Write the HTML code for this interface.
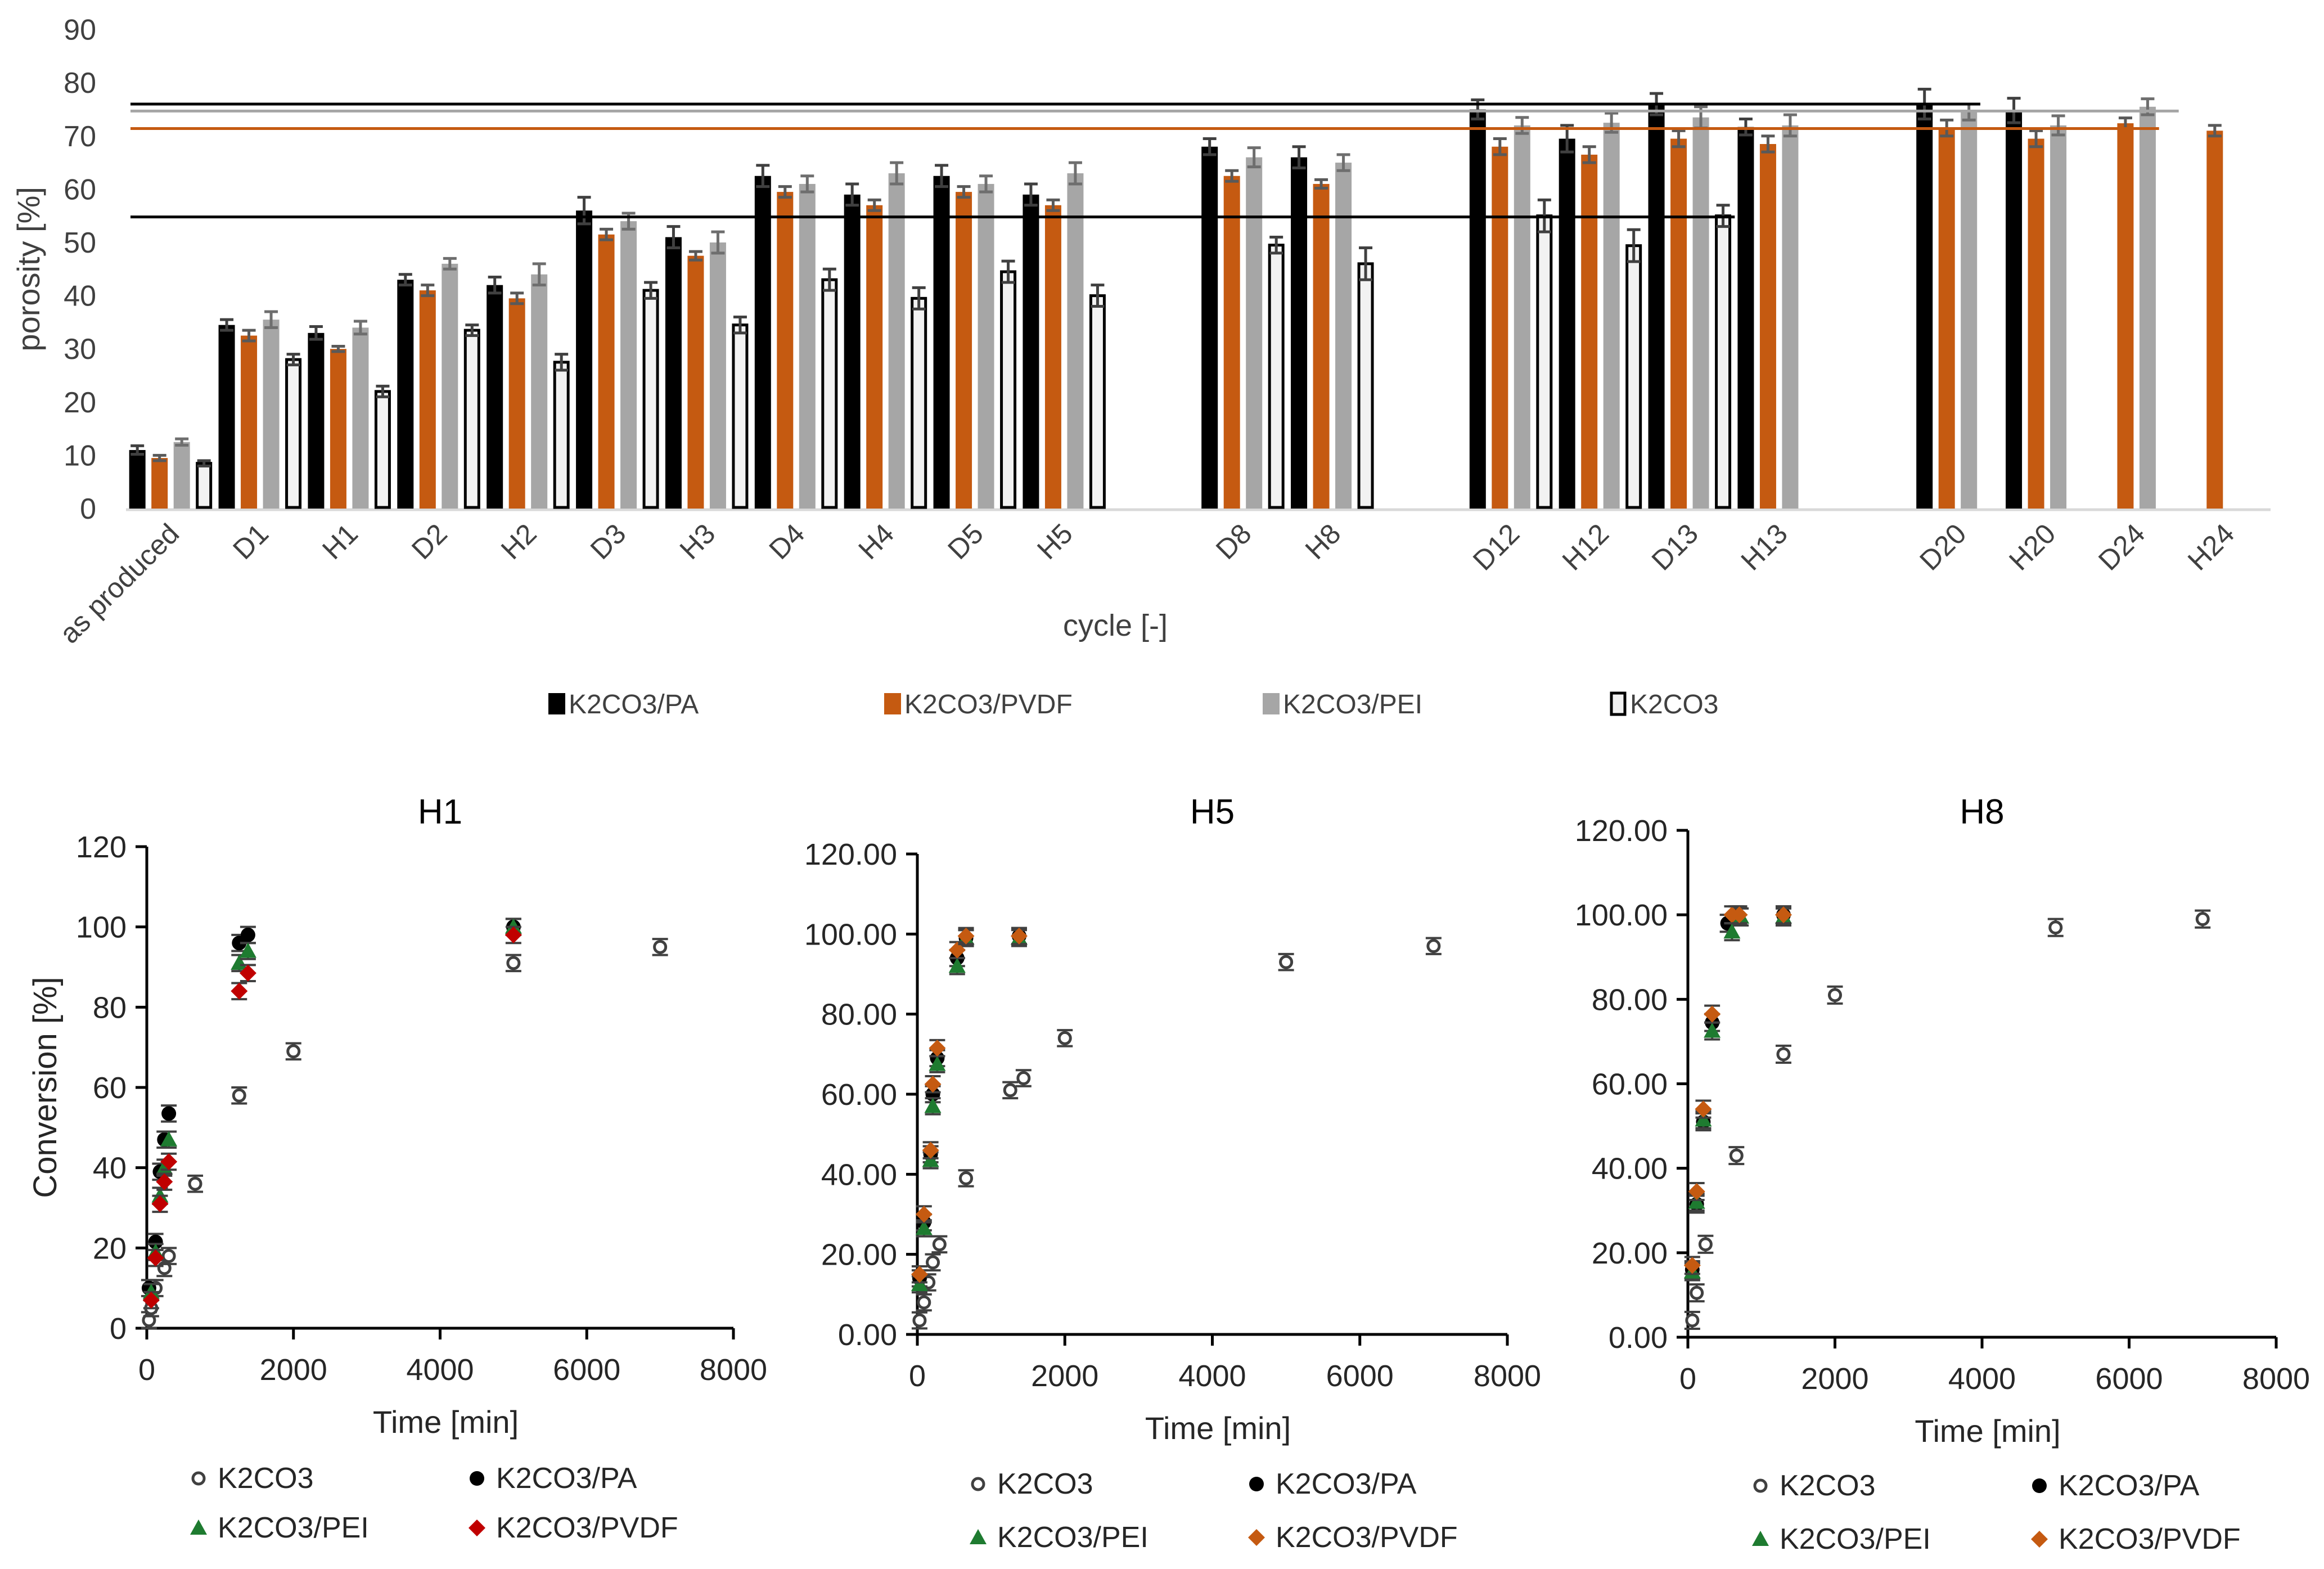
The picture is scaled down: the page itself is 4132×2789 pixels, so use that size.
<!DOCTYPE html>
<html><head><meta charset="utf-8"><style>
html,body{margin:0;padding:0;background:#fff;}
svg{display:block;font-family:"Liberation Sans",sans-serif;}
</style></head><body>
<svg id="svg" width="4132" height="2789" viewBox="0 0 4132 2789" xmlns="http://www.w3.org/2000/svg">
<g id="topChart"></g>
<g id="bottomCharts"></g>
</svg>
<script>
// ---------- Top chart data ----------
const categories = ["as produced","D1","H1","D2","H2","D3","H3","D4","H4","D5","H5","","D8","H8","","D12","H12","D13","H13","","D20","H20","D24","H24"];
const seriesNames = ["K2CO3/PA","K2CO3/PVDF","K2CO3/PEI","K2CO3"];
const paVals   = [11,34.5,33,43,42,56,51,62.5,59,62.5,59,null,68,66,null,75,69.5,76,71.7,null,76,74.8,null,null];
const pvdfVals = [9.5,32.5,30,41,39.5,51.5,47.5,59.5,57,59.5,57,null,62.5,61,null,68,66.5,69.5,68.5,null,71.5,69.5,72.4,71];
const peiVals  = [12.5,35.5,34,46,44,54,50,61,63,61,63,null,66,65,null,72,72.5,73.5,72,null,74.5,72,75.5,null];
const k2Vals   = [8.5,28,22,33.5,27.5,41,34.5,43,39.5,44.5,40,null,49.5,46,null,55,49.4,55,null,null,null,null,null,null];
const paErr   = [0.8,1,1.2,1,1.5,2.5,2,2,2,2,2,null,1.5,2,null,1.8,2.5,2,1.5,null,2.8,2.3,null,null];
const pvdfErr = [0.5,1,0.5,1,1,1,0.8,1,1,1,1,null,1,0.8,null,1.5,1.5,1.5,1.5,null,1.5,1.5,1,1];
const peiErr  = [0.6,1.5,1.2,1,2,1.5,2,1.5,2,1.5,2,null,1.8,1.5,null,1.5,1.8,2,2,null,1.5,1.8,1.5,null];
const k2Err   = [0.5,1,1,1,1.5,1.5,1.5,2,2,2,2,null,1.5,3,null,3,3,2,null,null,null,null,null,null];
const yTicksTop = [0,10,20,30,40,50,60,70,80,90];
const refLineVals = [76,74.7,71.4,54.8];

const NS="http://www.w3.org/2000/svg";
function mk(parent,tag,attrs,name,text){const e=document.createElementNS(NS,tag);for(const k in attrs)e.setAttribute(k,attrs[k]);


if(text!==undefined)e.textContent=text;parent.appendChild(e);return e;}

const topG=document.getElementById('topChart');
const L=224,R=4037,Y0=904,PU=9.46;
const band=(R-L)/categories.length;
const ty=v=>Y0-v*PU;
const cx=i=>L+band*(i+0.5);
const barW=29,barSp=39.5;
yTicksTop.forEach(t=>mk(topG,'text',{x:171,y:ty(t)+18,'text-anchor':'end','font-size':52,fill:'#404040'},'y-tick-label',String(t)));
mk(topG,'text',{transform:'translate(70,'+ty(45)+') rotate(-90)','text-anchor':'middle','font-size':56,fill:'#404040'},'y-axis-title','porosity [%]');
mk(topG,'line',{x1:L,x2:R,y1:Y0+2,y2:Y0+2,stroke:'#d9d9d9','stroke-width':5},'x-axis-line');
const fills=['#000000','#c55a11','#a6a6a6','#f2f2f2'];
const vals=[paVals,pvdfVals,peiVals,k2Vals],errs=[paErr,pvdfErr,peiErr,k2Err];
const errCol=['#404040','#595959','#6e6e6e','#404040'];
categories.forEach((c,i)=>{
  for(let s=0;s<4;s++){const v=vals[s][i];if(v===null)continue;
    const x=cx(i)+(s-1.5)*barSp-barW/2;
    const a={x:x,y:ty(v),width:barW,height:Y0-ty(v),fill:fills[s]};
    if(s===3){a.stroke='#000';a['stroke-width']=5;a.x=x+2.5;a.width=barW-5;a.y=ty(v);a.height=Y0-ty(v)-2;}
    mk(topG,'rect',a,'bar-'+seriesNames[s].toLowerCase().replace(/[^a-z0-9]/g,'-')+'-'+(c||'gap').replace(/ /g,'-'));
    const e=errs[s][i];if(e){const xm=cx(i)+(s-1.5)*barSp;
      mk(topG,'path',{d:`M${xm} ${ty(v+e)}V${ty(v-e)}M${xm-12} ${ty(v+e)}H${xm+12}M${xm-12} ${ty(v-e)}H${xm+12}`,stroke:errCol[s],'stroke-width':5,fill:'none'},'error-bar');}
  }
  if(c)mk(topG,'text',{transform:`translate(${cx(i)+18},${952}) rotate(-45)`,'text-anchor':'end','font-size':50,fill:'#404040'},'x-tick-label',c);
});
const refCols=['#000000','#a6a6a6','#c55a11','#000000'];
const refEnds=[cx(20)+40,cx(22)+75,cx(22)+40,cx(17)+80];
refLineVals.forEach((v,k)=>{
  mk(topG,'line',{x1:L+8,x2:refEnds[k],y1:ty(v),y2:ty(v),stroke:refCols[k],'stroke-width':5},'reference-line');});
mk(topG,'text',{x:1983,y:1130,'text-anchor':'middle','font-size':54,fill:'#404040'},'x-axis-title','cycle [-]');
const legX=[975,1572,2245,2862];
seriesNames.forEach((n,s)=>{
  const a={x:legX[s],y:1232,width:30,height:38,fill:fills[s]};
  if(s===3){a.stroke='#000';a['stroke-width']=5;a.x+=3;a.width=24;}
  mk(topG,'rect',a,'legend-swatch');
  mk(topG,'text',{x:legX[s]+36,y:1268,'font-size':48,fill:'#404040'},'legend-label',n);
});

// ---------- Bottom charts data ----------
const xTicksBottom=[0,2000,4000,6000,8000];
const yTicksBottom=[0,20,40,60,80,100,120];
const h1K2T=[30,60,120,240,300,660,1260,2000,5000,7000];
const h1K2V=[2,5,10,15,18,36,58,69,91,95];
const h1PaT=[30,120,180,240,300,1260,1380,5000];
const h1PaV=[10,21.5,39,47,53.5,96,98,100];
const h1PeiT=[60,120,180,240,300,1260,1380,5000];
const h1PeiV=[9,19,33,40,47,91,94,100];
const h1PvdfT=[60,120,180,240,300,1260,1380,5000];
const h1PvdfV=[7,17.5,31,36.5,41.5,84,88.5,98];
const h5K2T=[30,90,150,210,300,660,1260,1440,2000,5000,7000];
const h5K2V=[3.5,8,13,18,22.5,39,61,64,74,93,97];
const h5PaT=[30,90,180,210,270,540,660,1380];
const h5PaV=[14,28,45,60,69,94,99,99.5];
const h5PeiT=[30,90,180,210,270,540,660,1380];
const h5PeiV=[12.5,26.5,43.5,57,67.5,92,99,99];
const h5PvdfT=[30,90,180,210,270,540,660,1380];
const h5PvdfV=[15,30,46,62.5,71.5,96,99.5,99.5];
const h8K2T=[60,120,240,660,1300,2000,5000,7000];
const h8K2V=[4,10.5,22,43,67,81,97,99];
const h8PaT=[60,120,210,330,540,660,1300];
const h8PaV=[16,31.5,51,74.5,98,100,100];
const h8PeiT=[60,120,210,330,600,720,1300];
const h8PeiV=[15.5,32,51.5,72.5,96,99.5,99.5];
const h8PvdfT=[60,120,210,330,600,700,1300];
const h8PvdfV=[17,34.5,54,76.5,100,100,100];

const botG=document.getElementById('bottomCharts');
const panels=[
 {title:'H1',x0:261,x1:1304,y0:2361,y1:1505,dec:0,pv:'#c00000',
  series:[[h1K2T,h1K2V],[h1PaT,h1PaV],[h1PeiT,h1PeiV],[h1PvdfT,h1PvdfV]],
  lx:[353,848],ly:[2645,2733],ylab:true},
 {title:'H5',x0:1631,x1:2680,y0:2372,y1:1518,dec:2,pv:'#c55a11',
  series:[[h5K2T,h5K2V],[h5PaT,h5PaV],[h5PeiT,h5PeiV],[h5PvdfT,h5PvdfV]],
  lx:[1739,2234],ly:[2655,2750]},
 {title:'H8',x0:3001,x1:4047,y0:2377,y1:1476,dec:2,pv:'#c55a11',
  series:[[h8K2T,h8K2V],[h8PaT,h8PaV],[h8PeiT,h8PeiV],[h8PvdfT,h8PvdfV]],
  lx:[3130,3626],ly:[2658,2753]}
];
const legNames=['K2CO3','K2CO3/PA','K2CO3/PEI','K2CO3/PVDF'];
function marker(g,s,x,y,pv,name){
  if(s===0)return mk(g,'circle',{cx:x,cy:y,r:10,fill:'#fff',stroke:'#404040','stroke-width':5},name);
  if(s===1)return mk(g,'circle',{cx:x,cy:y,r:13,fill:'#000'},name);
  if(s===2)return mk(g,'path',{d:`M${x} ${y-15}L${x+15} ${y+12}H${x-15}Z`,fill:'#1e7b30'},name);
  return mk(g,'path',{d:`M${x} ${y-15}L${x+15} ${y}L${x} ${y+15}L${x-15} ${y}Z`,fill:pv},name);
}
panels.forEach(p=>{
  const g=mk(botG,'g',{},'panel-'+p.title.toLowerCase());
  const X=t=>p.x0+(p.x1-p.x0)*t/8000, Y=v=>p.y0+(p.y1-p.y0)*v/120;
  mk(g,'text',{x:(p.x0+p.x1)/2,y:1464,'text-anchor':'middle','font-size':62,fill:'#000'},'chart-title',p.title);
  mk(g,'line',{x1:p.x0,x2:p.x0,y1:Y(120),y2:p.y0+2,stroke:'#000','stroke-width':5},'y-axis-line');
  mk(g,'line',{x1:p.x0-2,x2:p.x1,y1:p.y0,y2:p.y0,stroke:'#000','stroke-width':5},'x-axis-line');
  yTicksBottom.forEach(t=>{mk(g,'line',{x1:p.x0-20,x2:p.x0,y1:Y(t),y2:Y(t),stroke:'#000','stroke-width':5},'y-tick');
    mk(g,'text',{x:p.x0-36,y:Y(t)+19,'text-anchor':'end','font-size':54,fill:'#262626'},'y-tick-label',t.toFixed(p.dec));});
  xTicksBottom.forEach(t=>{mk(g,'line',{x1:X(t),x2:X(t),y1:p.y0,y2:p.y0+20,stroke:'#000','stroke-width':5},'x-tick');
    mk(g,'text',{x:X(t),y:p.y0+92,'text-anchor':'middle','font-size':54,fill:'#262626'},'x-tick-label',String(t));});
  mk(g,'text',{x:(p.x0+p.x1)/2+10,y:p.y0+186,'text-anchor':'middle','font-size':56,fill:'#262626'},'x-axis-title','Time [min]');
  if(p.ylab)mk(g,'text',{transform:`translate(100,${Y(60)}) rotate(-90)`,'text-anchor':'middle','font-size':58,fill:'#262626'},'y-axis-title','Conversion [%]');
  p.series.forEach((sr,s)=>{
    sr[0].forEach((t,i)=>{const v=sr[1][i];const x=X(t),y=Y(v);
      mk(g,'path',{d:`M${x} ${Y(v+2)}V${Y(v-2)}M${x-14} ${Y(v+2)}H${x+14}M${x-14} ${Y(v-2)}H${x+14}`,stroke:'#404040','stroke-width':4},'error-bar');
      marker(g,s,x,y,p.pv,'point-'+legNames[s].toLowerCase().replace(/[^a-z0-9]/g,'-'));});
  });
  legNames.forEach((n,s)=>{const lx=p.lx[s%2],ly=p.ly[Math.floor(s/2)];
    marker(g,s,lx,ly-17,p.pv,'legend-marker');
    mk(g,'text',{x:lx+34,y:ly,'font-size':52,fill:'#262626'},'legend-label',n);});
});
</script>
</body></html>
